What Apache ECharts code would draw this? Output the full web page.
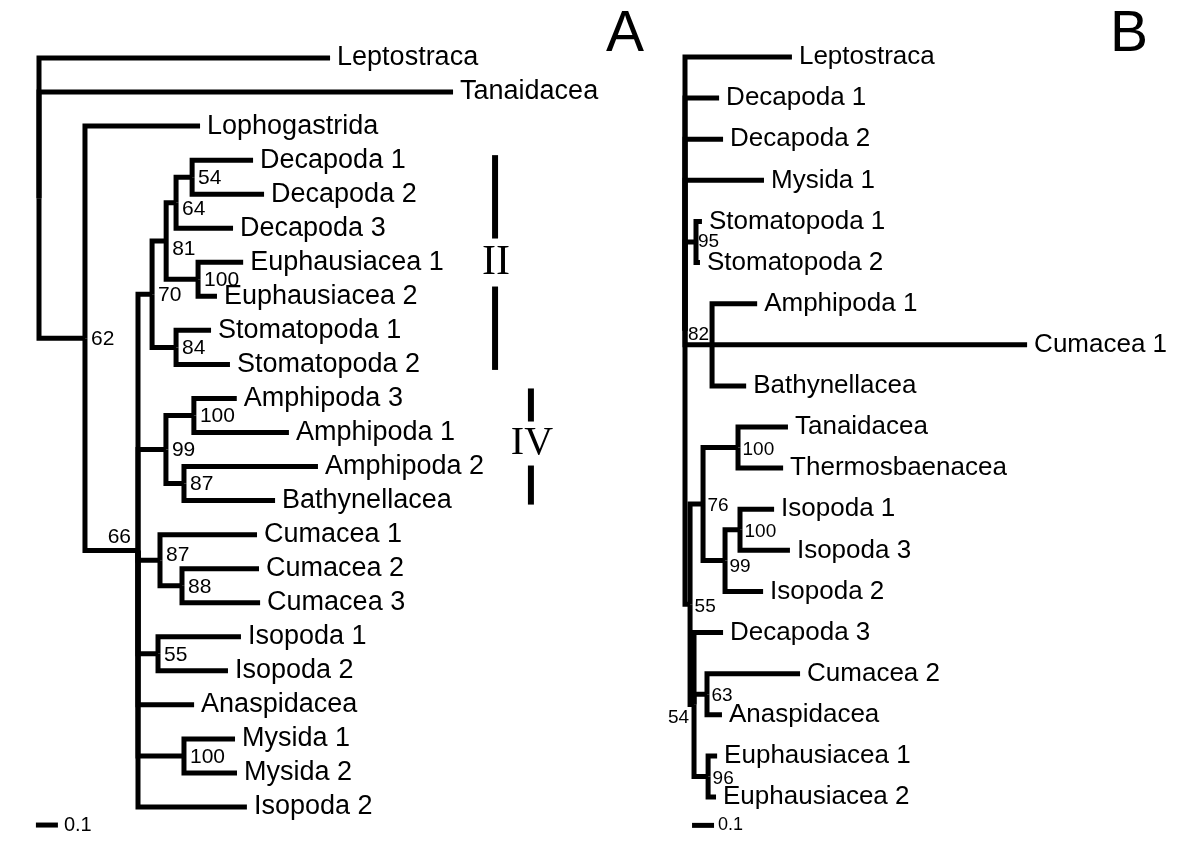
<!DOCTYPE html>
<html>
<head>
<meta charset="utf-8">
<title>Trees A and B</title>
<script src="https://cdn.jsdelivr.net/npm/echarts@6/dist/echarts.min.js"></script>
<style>
  html, body { margin: 0; padding: 0; background: #fff; }
  #chart { width: 1200px; height: 859px; }
</style>
</head>
<body>
<div id="chart"></div>
<script>
// tree A: id, parent, branch length, taxon (tips) or support value (nodes)
const treeA = [
  ['A0', null, 0, ''],
  ['a1', 'A0', 1.323, 'Leptostraca'],
  ['a2', 'A0', 1.882, 'Tanaidacea'],
  ['A62', 'A0', 0.209, '62'],
  ['a3', 'A62', 0.523, 'Lophogastrida'],
  ['A66', 'A62', 0.241, '66'],
  ['A70', 'A66', 0.064, '70'],
  ['A81', 'A70', 0.064, '81'],
  ['A64', 'A81', 0.045, '64'],
  ['A54', 'A64', 0.073, '54'],
  ['a4', 'A54', 0.277, 'Decapoda 1'],
  ['a5', 'A54', 0.327, 'Decapoda 2'],
  ['a6', 'A64', 0.259, 'Decapoda 3'],
  ['AE', 'A81', 0.145, '100'],
  ['a7', 'AE', 0.205, 'Euphausiacea 1'],
  ['a8', 'AE', 0.086, 'Euphausiacea 2'],
  ['AS', 'A70', 0.109, '84'],
  ['a9', 'AS', 0.159, 'Stomatopoda 1'],
  ['a10', 'AS', 0.245, 'Stomatopoda 2'],
  ['A99', 'A66', 0.127, '99'],
  ['AA', 'A99', 0.127, '100'],
  ['a11', 'AA', 0.195, 'Amphipoda 3'],
  ['a12', 'AA', 0.432, 'Amphipoda 1'],
  ['A87', 'A99', 0.082, '87'],
  ['a13', 'A87', 0.609, 'Amphipoda 2'],
  ['a14', 'A87', 0.414, 'Bathynellacea'],
  ['AC', 'A66', 0.1, '87'],
  ['a15', 'AC', 0.441, 'Cumacea 1'],
  ['A88', 'AC', 0.1, '88'],
  ['a16', 'A88', 0.35, 'Cumacea 2'],
  ['a17', 'A88', 0.355, 'Cumacea 3'],
  ['A55', 'A66', 0.091, '55'],
  ['a18', 'A55', 0.377, 'Isopoda 1'],
  ['a19', 'A55', 0.318, 'Isopoda 2'],
  ['a20', 'A66', 0.255, 'Anaspidacea'],
  ['AM', 'A66', 0.209, '100'],
  ['a21', 'AM', 0.232, 'Mysida 1'],
  ['a22', 'AM', 0.241, 'Mysida 2'],
  ['a23', 'A66', 0.495, 'Isopoda 2']
];

// tree B
const treeB = [
  ['B0', null, 0, ''],
  ['b1', 'B0', 0.486, 'Leptostraca'],
  ['b2', 'B0', 0.155, 'Decapoda 1'],
  ['b3', 'B0', 0.173, 'Decapoda 2'],
  ['b4', 'B0', 0.359, 'Mysida 1'],
  ['BS', 'B0', 0.05, '95'],
  ['b5', 'BS', 0.027, 'Stomatopoda 1'],
  ['b6', 'BS', 0.018, 'Stomatopoda 2'],
  ['B82', 'B0', 0.123, '82'],
  ['b7', 'B82', 0.205, 'Amphipoda 1'],
  ['b8', 'B82', 1.432, 'Cumacea 1'],
  ['b9', 'B82', 0.155, 'Bathynellacea'],
  ['B55', 'B0', 0.023, '55'],
  ['B76', 'B55', 0.059, '76'],
  ['BT', 'B76', 0.159, '100'],
  ['b10', 'BT', 0.227, 'Tanaidacea'],
  ['b11', 'BT', 0.205, 'Thermosbaenacea'],
  ['B99', 'B76', 0.1, '99'],
  ['BI', 'B99', 0.068, '100'],
  ['b12', 'BI', 0.155, 'Isopoda 1'],
  ['b13', 'BI', 0.227, 'Isopoda 3'],
  ['b14', 'B99', 0.173, 'Isopoda 2'],
  ['B54', 'B55', 0.018, '54'],
  ['b15', 'B54', 0.132, 'Decapoda 3'],
  ['B63', 'B54', 0.059, '63'],
  ['b16', 'B63', 0.423, 'Cumacea 2'],
  ['b17', 'B63', 0.068, 'Anaspidacea'],
  ['BE', 'B54', 0.064, '96'],
  ['b18', 'BE', 0.041, 'Euphausiacea 1'],
  ['b19', 'BE', 0.036, 'Euphausiacea 2']
];

// clades marked beside tree A: label, first tip, last tip
const cladeBars = [
  ['II', 'Decapoda 1', 'Stomatopoda 2'],
  ['IV', 'Amphipoda 3', 'Bathynellacea']
];
const scaleBarLength = 0.1;
const scaleBarText = '0.1';

const SANS = '"Liberation Sans", Arial, sans-serif';
const SERIF = '"Liberation Serif", "Times New Roman", serif';

// per panel look
const panels = [
  { grid: { left: 39, top: 58, width: 660, height: 749 }, xMax: 3,
    tipGap: 7, tipFont: 27, supFont: 21, supDx: 6, supDy: 1,
    bar: { x0: -0.014, yGap: 0.53, font: 20, gap: 6 } },
  { grid: { left: 685, top: 57, width: 440, height: 740 }, xMax: 2,
    tipGap: 7, tipFont: 26, supFont: 19, supDx: 4.5, supDy: 2,
    bar: { x0: 0.032, yGap: 0.69, font: 18, gap: 4 } }
];

// support labels that sit somewhere else than right of the node
const supportNudge = {
  A66: { align: 'right', dx: -7, dy: -13 },
  A64: { dy: 7 },
  A81: { dy: 8 },
  AC: { dy: -4.5 },
  B82: { align: 'right', dx: -3, dy: -10 },
  B54: { align: 'right', dx: -5, dy: 13 },
  BS: { dx: 2, dy: 0 },
  B99: { dy: 6 }
};

const cladeStyle = {
  II: { x: 2.073, padTop: 5, padBottom: 5.5, font: 42, gap: 24, dy: 0 },
  IV: { x: 2.236, padTop: 10, padBottom: 4, font: 40, gap: 22, dy: -3 }
};

// cumulative branch length -> x, tip order -> y
function layout(rows) {
  const byId = {};
  rows.forEach(([id, parent, len, text]) => {
    byId[id] = { id, parent, len, text, kids: [] };
  });
  rows.forEach(([id, parent]) => {
    if (parent) byId[parent].kids.push(byId[id]);
  });
  let tip = 0;
  (function walk(n, depth) {
    n.x = depth + n.len;
    if (!n.kids.length) {
      n.y = tip++;
      return;
    }
    n.kids.forEach((k) => walk(k, n.x));
    n.y = (n.kids[0].y + n.kids[n.kids.length - 1].y) / 2;
  })(byId[rows[0][0]], 0);
  return { all: rows.map((r) => byId[r[0]]), byId, nTips: tip };
}

function textEl(x, y, text, font, align) {
  return {
    type: 'text',
    x: x,
    y: y,
    style: {
      text: text,
      font: font,
      fill: '#000',
      align: align,
      textAlign: align,
      verticalAlign: 'middle',
      textVerticalAlign: 'middle'
    }
  };
}

function branchSeries(tree, i) {
  const data = tree.all
    .filter((n) => n.parent)
    .map((n) => {
      const p = tree.byId[n.parent];
      return [p.x, p.y, n.x, n.y];
    });
  return {
    type: 'custom',
    xAxisIndex: i,
    yAxisIndex: i,
    silent: true,
    encode: { x: [0, 2], y: [1, 3] },
    data: data,
    renderItem(params, api) {
      const p = api.coord([api.value(0), api.value(1)]);
      const c = api.coord([api.value(2), api.value(3)]);
      const pts = Math.abs(p[1] - c[1]) < 0.5 ? [p, c] : [p, [p[0], c[1]], c];
      return {
        type: 'polyline',
        shape: { points: pts },
        style: { stroke: '#000', lineWidth: 5, fill: null, lineJoin: 'miter', lineCap: 'butt' }
      };
    }
  };
}

function labelSeries(items, i) {
  return {
    type: 'custom',
    xAxisIndex: i,
    yAxisIndex: i,
    silent: true,
    encode: { x: 0, y: 1 },
    data: items.map((d) => [d.x, d.y]),
    renderItem(params, api) {
      const d = items[params.dataIndex];
      const c = api.coord([api.value(0), api.value(1)]);
      return textEl(c[0] + d.dx, c[1] + d.dy, d.text, d.font, d.align);
    }
  };
}

function scaleBarSeries(tree, i) {
  const cfg = panels[i].bar;
  return {
    type: 'custom',
    xAxisIndex: i,
    yAxisIndex: i,
    silent: true,
    data: [[cfg.x0, tree.nTips - 1 + cfg.yGap]],
    renderItem(params, api) {
      const a = api.coord([api.value(0), api.value(1)]);
      const b = api.coord([api.value(0) + scaleBarLength, api.value(1)]);
      return {
        type: 'group',
        children: [
          { type: 'line', shape: { x1: a[0], y1: a[1], x2: b[0], y2: b[1] },
            style: { stroke: '#000', lineWidth: 5 } },
          textEl(b[0] + cfg.gap, a[1], scaleBarText, cfg.font + 'px ' + SANS, 'left')
        ]
      };
    }
  };
}

function cladeSeries(tree) {
  const tipY = (name) => tree.all.find((n) => !n.kids.length && n.text === name).y;
  return {
    type: 'custom',
    xAxisIndex: 0,
    yAxisIndex: 0,
    silent: true,
    data: cladeBars.map(([lab, from, to]) => [cladeStyle[lab].x, tipY(from), tipY(to)]),
    renderItem(params, api) {
      const lab = cladeBars[params.dataIndex][0];
      const s = cladeStyle[lab];
      const t = api.coord([api.value(0), api.value(1)]);
      const b = api.coord([api.value(0), api.value(2)]);
      const x = t[0];
      const top = t[1] - s.padTop;
      const bottom = b[1] + s.padBottom;
      const mid = (top + bottom) / 2 + s.dy;
      const st = { stroke: '#000', lineWidth: 6 };
      return {
        type: 'group',
        children: [
          { type: 'line', shape: { x1: x, y1: top, x2: x, y2: mid - s.gap }, style: st },
          { type: 'line', shape: { x1: x, y1: mid + s.gap, x2: x, y2: bottom }, style: st },
          textEl(x + 1, mid, lab, s.font + 'px ' + SERIF, 'center')
        ]
      };
    }
  };
}

const trees = [layout(treeA), layout(treeB)];

const series = [];
trees.forEach((tree, i) => {
  const cfg = panels[i];
  series.push(branchSeries(tree, i));
  const tips = tree.all
    .filter((n) => !n.kids.length)
    .map((n) => ({ x: n.x, y: n.y, text: n.text, dx: cfg.tipGap, dy: 0,
      font: cfg.tipFont + 'px ' + SANS, align: 'left' }));
  series.push(labelSeries(tips, i));
  const sups = tree.all
    .filter((n) => n.kids.length && n.text)
    .map((n) => {
      const o = supportNudge[n.id] || {};
      return { x: n.x, y: n.y, text: n.text,
        dx: o.dx !== undefined ? o.dx : cfg.supDx,
        dy: o.dy !== undefined ? o.dy : cfg.supDy,
        align: o.align || 'left',
        font: cfg.supFont + 'px ' + SANS };
    });
  series.push(labelSeries(sups, i));
  series.push(scaleBarSeries(tree, i));
});
series.push(cladeSeries(trees[0]));

const chart = echarts.init(document.getElementById('chart'));
chart.setOption({
  backgroundColor: '#fff',
  animation: false,
  title: [
    { text: 'A', left: 606, top: 7, padding: 0,
      textStyle: { fontSize: 57, lineHeight: 57, fontWeight: 'normal', fontFamily: SANS, color: '#000' } },
    { text: 'B', left: 1110, top: 7, padding: 0,
      textStyle: { fontSize: 57, lineHeight: 57, fontWeight: 'normal', fontFamily: SANS, color: '#000' } }
  ],
  grid: panels.map((p) => p.grid),
  xAxis: panels.map((p, i) => ({ type: 'value', gridIndex: i, min: 0, max: p.xMax, show: false })),
  yAxis: trees.map((t, i) => ({ type: 'value', gridIndex: i, min: 0, max: t.nTips - 1, inverse: true, show: false })),
  series: series
});
</script>
</body>
</html>
